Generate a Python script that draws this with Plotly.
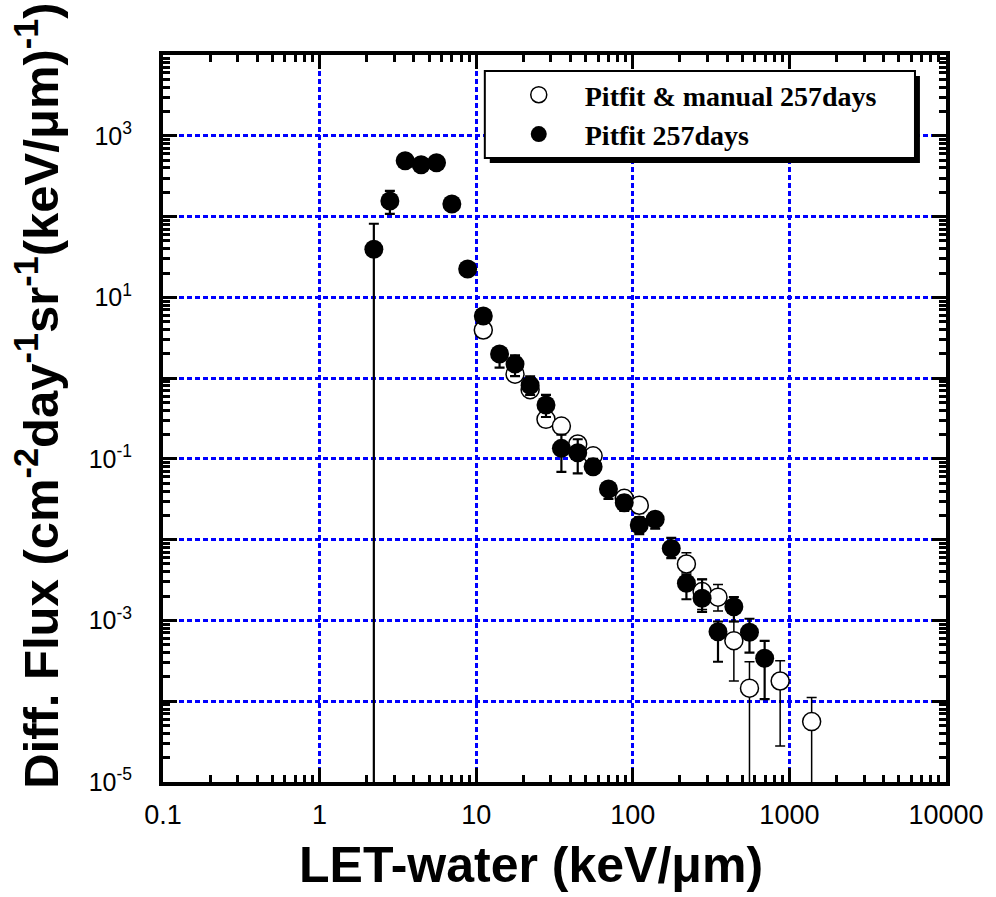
import plotly.graph_objects as go

# ---------------- data ----------------
filled_x = [2.22, 2.81, 3.52, 4.45, 5.58, 6.99, 8.82, 11.1, 14.1, 17.7, 22.1, 27.9, 35.0,
            44.5, 55.8, 69.9, 88.2, 110, 139, 176, 220, 277, 350, 442, 556, 695]
filled_y = [39.3, 156, 491, 438, 464, 143, 22.4, 5.87, 1.99, 1.49, 0.815, 0.465, 0.135,
            0.119, 0.080, 0.0424, 0.0287, 0.0152, 0.0179, 0.0078, 0.00288, 0.00188,
            0.000726, 0.00148, 0.000714, 0.00034]
filled_hi = [81.5, 208, 540, 480, 510, 157, 24.5, 6.4, 2.3, 1.91, 1.05, 0.62, 0.20,
             0.175, 0.10, 0.05, 0.035, 0.019, 0.022, 0.0105, 0.0037, 0.00323,
             0.00097, 0.00195, 0.00105, 0.00056]
filled_lo = [1e-7, 108, 445, 400, 420, 130, 20.5, 5.3, 1.35, 1.06, 0.62, 0.33, 0.069,
             0.066, 0.065, 0.032, 0.0227, 0.0117, 0.0137, 0.0059, 0.00183, 0.00128,
             0.000308, 0.00097, 0.00040, 0.000106]

open_x = [11.1, 17.7, 22.1, 27.9, 35.0, 44.5, 55.8, 88.2, 110, 220, 277, 350, 442, 556, 873, 1387]
open_y = [3.94, 1.12, 0.72, 0.309, 0.255, 0.153, 0.109, 0.0325, 0.0267, 0.0050, 0.00228,
          0.00194, 0.000562, 0.000145, 0.000178, 5.6e-5]
open_hi = [4.6, 1.3, 0.85, 0.36, 0.29, 0.175, 0.125, 0.037, 0.0326, 0.0069, 0.00323,
           0.00278, 0.00097, 0.000308, 0.000317, 0.000111]
open_lo = [3.4, 0.97, 0.6, 0.26, 0.215, 0.135, 0.09, 0.028, 0.0211, 0.0039, 0.00137,
           0.00131, 0.000178, 1e-7, 2.79e-5, 1e-7]

x_tick_vals = [0.1, 1, 10, 100, 1000, 10000]
x_tick_text = ["0.1", "1", "10", "100", "1000", "10000"]
y_exponents = [-5, -4, -3, -2, -1, 0, 1, 2, 3, 4]
y_labelled = [-5, -3, -1, 1, 3]

series_names = ["Pitfit &amp; manual 257days", "Pitfit 257days"]

# ---------------- geometry helpers ----------------
W, H = 996, 897
L, R, T, B = 163.3, 953.3, 55.0, 782.0


def px_x(p):
    return (p - L) / (R - L)


def px_y(p):
    return 1 - (p - T) / (B - T)


y_tick_vals = [10.0 ** e for e in y_exponents]
y_tick_text = [("10<sup>%d</sup>" % e) if e in y_labelled else "" for e in y_exponents]
x_minor = [m * 10.0 ** e for e in range(-1, 4) for m in range(2, 10)]
y_minor = [m * 10.0 ** e for e in range(-5, 4) for m in range(2, 10)]

fig = go.Figure()

fig.add_trace(go.Scatter(
    x=open_x, y=open_y, mode="markers", name="<b>" + series_names[0] + "</b>",
    marker=dict(symbol="circle", size=18, color="white",
                line=dict(color="black", width=1.5)),
    error_y=dict(type="data", symmetric=False,
                 array=[h - v for h, v in zip(open_hi, open_y)],
                 arrayminus=[v - lo for v, lo in zip(open_y, open_lo)],
                 color="black", thickness=1.5, width=5),
))
fig.add_trace(go.Scatter(
    x=filled_x, y=filled_y, mode="markers", name="<b>" + series_names[1] + "</b>",
    marker=dict(symbol="circle", size=19, color="black",
                line=dict(color="black", width=0)),
    error_y=dict(type="data", symmetric=False,
                 array=[h - v for h, v in zip(filled_hi, filled_y)],
                 arrayminus=[v - lo for v, lo in zip(filled_y, filled_lo)],
                 color="black", thickness=2.2, width=5),
))

grid = dict(showgrid=True, gridcolor="#0000ff", gridwidth=2.5, griddash="5px,3px")
axis_common = dict(type="log", showline=True, linecolor="black", linewidth=4,
                   mirror="allticks", ticks="inside", ticklen=14, tickwidth=3,
                   tickcolor="black", zeroline=False, **grid)

fig.update_xaxes(range=[-1, 4], tickmode="array", tickvals=x_tick_vals,
                 ticktext=x_tick_text, ticklabelstandoff=6,
                 tickfont=dict(family="Liberation Sans, Arial", size=27, color="black"),
                 minor=dict(tickmode="array", tickvals=x_minor, ticks="inside",
                            ticklen=7, tickwidth=2.5, tickcolor="black", showgrid=False),
                 **axis_common)
fig.update_yaxes(range=[-5, 4], tickmode="array", tickvals=y_tick_vals,
                 ticktext=y_tick_text, ticklabelstandoff=22,
                 tickfont=dict(family="Liberation Sans, Arial", size=25, color="black"),
                 minor=dict(tickmode="array", tickvals=y_minor, ticks="inside",
                            ticklen=7, tickwidth=2.5, tickcolor="black", showgrid=False),
                 **axis_common)

# legend frame with drop shadow
shapes = [
    dict(type="rect", xref="paper", yref="paper", layer="above",
         x0=px_x(493), x1=px_x(927), y0=px_y(163), y1=px_y(76),
         fillcolor="black", line=dict(width=0)),
    dict(type="rect", xref="paper", yref="paper", layer="above",
         x0=px_x(488), x1=px_x(922), y0=px_y(158), y1=px_y(71),
         fillcolor="white", line=dict(color="black", width=2)),
]

annotations = [
    dict(text="<b>Diff. Flux (cm<sup>-2</sup>day<sup>-1</sup>sr<sup>-1</sup>(keV/\u03bcm)<sup>-1</sup>)</b>",
         xref="paper", yref="paper", x=px_x(37), y=px_y(396), xanchor="center",
         yanchor="middle", textangle=-90, showarrow=False,
         font=dict(family="Liberation Sans, Arial", size=49, color="black")),
    dict(text="<b>LET-water (keV/\u03bcm)</b>", xref="paper", yref="paper",
         x=px_x(535), y=px_y(865), xanchor="center", yanchor="middle",
         showarrow=False,
         font=dict(family="Liberation Sans, Arial", size=50, color="black")),
]

fig.update_layout(
    width=W, height=H, autosize=False,
    margin=dict(l=L, r=W - R, t=T, b=H - B, pad=0),
    paper_bgcolor="white", plot_bgcolor="white",
    showlegend=True,
    legend=dict(x=px_x(496), y=px_y(70), xanchor="left", yanchor="top",
                bgcolor="rgba(0,0,0,0)", borderwidth=0, itemwidth=82,
                tracegroupgap=0,
                font=dict(family="Liberation Serif, Times New Roman", size=28,
                          color="black"),
                traceorder="normal"),
    shapes=shapes, annotations=annotations,
)

fig.write_html("out.html")
